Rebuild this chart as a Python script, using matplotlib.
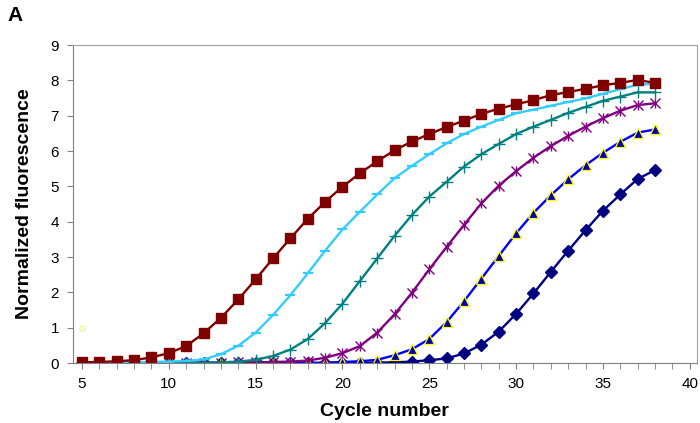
import matplotlib
matplotlib.use("Agg")
from matplotlib import pyplot as plt
import numpy as np

plt.rcParams['font.family'] = ['Liberation Sans', 'DejaVu Sans']

cycles = list(range(5, 39))

red = [0.02, 0.03, 0.05, 0.08, 0.16, 0.28, 0.48, 0.84, 1.28, 1.80, 2.37, 2.96, 3.53, 4.08, 4.56,
       4.99, 5.37, 5.71, 6.02, 6.27, 6.48, 6.68, 6.86, 7.05, 7.20, 7.32, 7.44, 7.58, 7.67, 7.76,
       7.86, 7.93, 8.01, 7.93]
cyan = [0.0, 0.0, 0.01, 0.02, 0.03, 0.04, 0.06, 0.10, 0.25, 0.49, 0.86, 1.36, 1.92, 2.54, 3.18,
        3.78, 4.28, 4.77, 5.23, 5.58, 5.91, 6.22, 6.48, 6.69, 6.88, 7.07, 7.17, 7.28, 7.39, 7.49,
        7.62, 7.75, 7.88, 7.90]
teal = [0.0, 0.0, 0.0, 0.0, 0.0, 0.0, 0.01, 0.01, 0.02, 0.04, 0.09, 0.20, 0.38, 0.68, 1.13,
        1.68, 2.32, 2.96, 3.60, 4.19, 4.71, 5.13, 5.56, 5.91, 6.20, 6.48, 6.69, 6.88, 7.08, 7.25,
        7.42, 7.54, 7.66, 7.66]
purple = [0.0, 0.0, 0.0, 0.0, 0.0, 0.0, 0.0, 0.01, 0.01, 0.02, 0.02, 0.03, 0.04, 0.07, 0.15,
          0.28, 0.48, 0.86, 1.38, 1.99, 2.65, 3.29, 3.91, 4.52, 5.02, 5.43, 5.81, 6.14, 6.43, 6.69,
          6.93, 7.14, 7.30, 7.35]
blue = [0.0, 0.0, 0.0, 0.0, 0.0, 0.0, 0.0, 0.0, 0.0, 0.0, 0.0, 0.0, 0.0, 0.0, 0.01,
        0.03, 0.05, 0.09, 0.22, 0.39, 0.68, 1.16, 1.75, 2.39, 3.03, 3.67, 4.25, 4.75, 5.20, 5.60,
        5.95, 6.26, 6.52, 6.61]
navy = [0.0, 0.0, 0.0, 0.0, 0.0, 0.0, 0.0, 0.0, 0.0, 0.0, 0.0, 0.0, 0.0, 0.0, 0.0,
        0.0, 0.0, 0.01, 0.02, 0.04, 0.08, 0.13, 0.27, 0.52, 0.89, 1.39, 1.97, 2.58, 3.18, 3.76,
        4.31, 4.77, 5.21, 5.46]

stray_x = [5]
stray_y = [1.0]

xticks = [5, 10, 15, 20, 25, 30, 35, 40]
yticks = list(range(0, 10))

fig = plt.figure(figsize=(7, 4.23), dpi=100)
ax = fig.add_axes([0.1043, 0.1418, 0.891, 0.7518])

lw = 1.7
ax.plot(cycles, navy, color='#000080', lw=lw, marker='D', ms=6, mfc='#000080', mec='#000080')
ax.plot(cycles, blue, color='#0000FF', lw=lw, marker='^', ms=6.5, mfc='#0000A0', mec='#FFFF00', mew=0.9)
ax.plot(cycles, purple, color='#800080', lw=lw, marker='x', ms=7.5, mec='#800080', mew=1.0)
ax.plot(cycles, purple, color='none', marker='|', ms=7.5, mec='#800080', mew=1.0)
ax.plot(cycles, teal, color='#008080', lw=lw, marker='+', ms=8, mec='#008080', mew=1.0)
ax.plot(cycles, cyan, color='#33CCFF', lw=lw, marker='_', ms=7.5, mec='#33CCFF', mew=1.6)
ax.plot(cycles, red, color='#800000', lw=lw, marker='s', ms=6.5, mfc='#800000', mec='#800000')
ax.plot(stray_x, stray_y, ls='none', marker='o', ms=4, mfc='#FFFFC8', mec='#E8E8B0', mew=0.6)

ax.set_xlim(4.48, 40.4)
ax.set_ylim(0, 9)
ax.set_xticks(xticks)
ax.set_xticks(range(5, 41), minor=True)
ax.set_yticks(yticks)
ax.tick_params(axis='both', which='major', labelsize=11, color='#808080', direction='out', length=4, pad=6)
ax.tick_params(axis='x', which='minor', color='#808080', direction='out', length=4)

for side in ['left', 'bottom']:
    ax.spines[side].set_color('#808080')
for side in ['top', 'right']:
    ax.spines[side].set_color('#A0A0A0')

ax.set_xlabel('Cycle number', fontsize=14, fontweight='bold', labelpad=9)
ax.set_ylabel('Normalized fluorescence', fontsize=14, fontweight='bold', labelpad=13)

fig.text(0.01, 0.985, 'A', fontsize=15, fontweight='bold', va='top', ha='left')

fig.savefig('out.png', dpi=100)
